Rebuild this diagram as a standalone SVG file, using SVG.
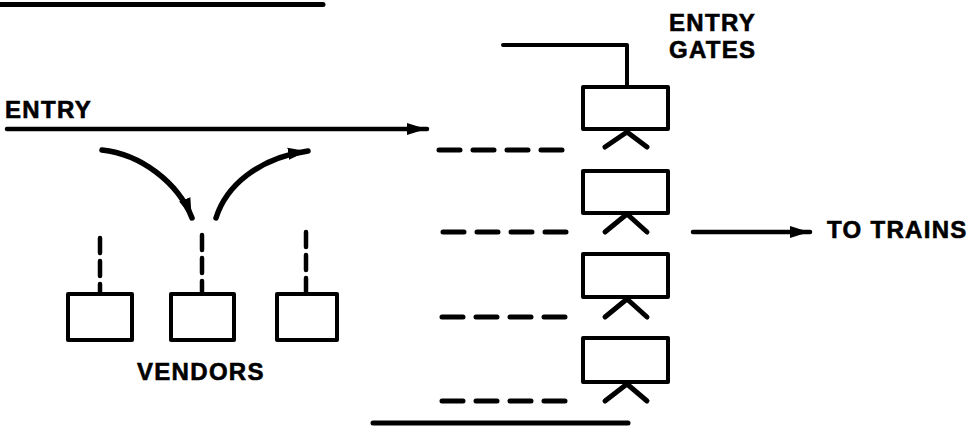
<svg xmlns="http://www.w3.org/2000/svg" width="970" height="428" viewBox="0 0 970 428">
  <style>
    .lbl { font-family: "Liberation Sans", Arial, sans-serif; font-weight: bold; font-size: 24px; letter-spacing: 1.3px; fill: #000; stroke: #000; stroke-width: 0.6; }
    .box { fill: #fff; stroke: #000; stroke-width: 4; stroke-linejoin: round; }
    .line { fill: none; stroke: #000; stroke-linecap: round; stroke-linejoin: round; }
    .dash { fill: none; stroke: #000; stroke-width: 5; stroke-linecap: round; stroke-dasharray: 21 13; }
    .vdash { fill: none; stroke: #000; stroke-width: 4.5; stroke-linecap: round; stroke-dasharray: 15 8; }
  </style>
  <defs>
    <marker id="head" markerUnits="userSpaceOnUse" markerWidth="24" markerHeight="16" refX="20" refY="7" orient="auto">
      <path d="M0,1 Q9,4 20,7 Q9,10 0,13 Z" fill="#000"/>
    </marker>
  </defs>

  <rect width="970" height="428" fill="#fff"/>

  <!-- heading underline -->
  <line class="line" x1="0" y1="4.5" x2="323" y2="4.5" stroke-width="5"/>

  <g id="connectors">
    <!-- main entry flow -->
    <line class="line" x1="7" y1="129" x2="427" y2="129" stroke-width="4.5" marker-end="url(#head)"/>
    <!-- detour to vendors and back -->
    <path class="line" d="M102,150 C140,154 178,182 192,218" stroke-width="5.5" marker-end="url(#head)"/>
    <path class="line" d="M216,218 C226,186 258,158 308,151" stroke-width="5.5" marker-end="url(#head)"/>
    <!-- exit to trains -->
    <line class="line" x1="693" y1="232" x2="810" y2="232" stroke-width="4.5" marker-end="url(#head)"/>
    <!-- queue lines feeding the gates -->
    <line class="dash" x1="439" y1="150" x2="572" y2="150"/>
    <line class="dash" x1="443" y1="232" x2="576" y2="232"/>
    <line class="dash" x1="442" y1="317" x2="578" y2="317"/>
    <line class="dash" x1="442" y1="401" x2="577" y2="401"/>
    <!-- vendor links -->
    <line class="vdash" x1="100" y1="238" x2="100" y2="294"/>
    <line class="vdash" x1="202" y1="235" x2="202" y2="294"/>
    <line class="vdash" x1="306" y1="232" x2="306" y2="294"/>
    <!-- barrier lines -->
    <polyline class="line" points="503,45 627,45 627,87" stroke-width="4"/>
    <line class="line" x1="373" y1="423" x2="628" y2="423" stroke-width="5"/>
  </g>

  <g id="gate-1">
    <rect class="box" x="583" y="87" width="85" height="42"/>
    <polyline class="line" points="605,147 627,132 647,147" stroke-width="5"/>
  </g>
  <g id="gate-2">
    <rect class="box" x="583" y="171" width="85" height="42"/>
    <polyline class="line" points="605,232 627,214 647,232" stroke-width="5"/>
  </g>
  <g id="gate-3">
    <rect class="box" x="583" y="254" width="85" height="43"/>
    <polyline class="line" points="605,317 627,299 647,317" stroke-width="5"/>
  </g>
  <g id="gate-4">
    <rect class="box" x="583" y="338" width="85" height="44"/>
    <polyline class="line" points="605,401 627,384 647,401" stroke-width="5"/>
  </g>

  <g id="vendor-1"><rect class="box" x="68" y="294" width="64" height="46"/></g>
  <g id="vendor-2"><rect class="box" x="171" y="294" width="63" height="46"/></g>
  <g id="vendor-3"><rect class="box" x="277" y="294" width="60" height="46"/></g>

  <g id="labels">
    <text class="lbl" x="5" y="118">ENTRY</text>
    <text class="lbl" x="669" y="31">ENTRY</text>
    <text class="lbl" x="669" y="58">GATES</text>
    <text class="lbl" x="827" y="238">TO TRAINS</text>
    <text class="lbl" x="137" y="380">VENDORS</text>
  </g>
</svg>
